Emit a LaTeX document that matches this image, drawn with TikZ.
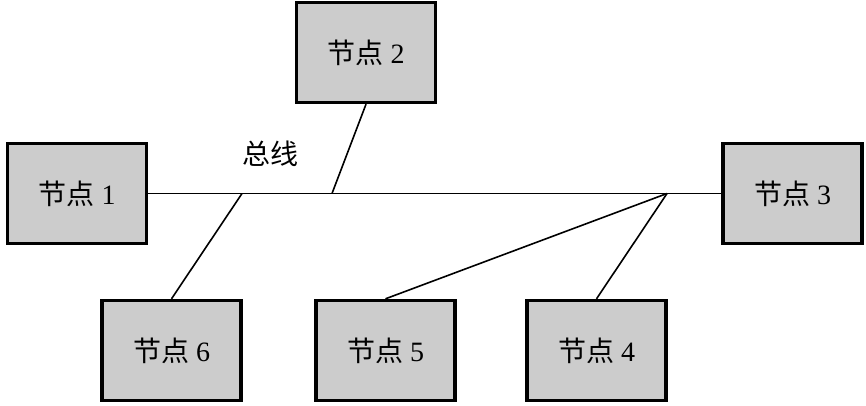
\documentclass[tikz,border=0pt]{standalone}
\usepackage{fontspec}
\setmainfont{Liberation Serif}
\newfontfamily\cjk{Noto Sans CJK SC}
\begin{document}
\begin{tikzpicture}[x=1pt,y=-1pt,
  nodebox/.style={draw=black,line width=3.4pt,fill=black!20,minimum width=139pt,minimum height=100pt,inner sep=0pt,font=\fontsize{28}{32}\selectfont},
  wire/.style={line width=1.6pt}]
\useasboundingbox (0,0) rectangle (866,405);
\node[nodebox] (n1) at (77,193.5) {{\cjk 节点} 1};
\node[nodebox] (n2) at (366,52.5) {{\cjk 节点} 2};
\node[nodebox] (n3) at (792.5,193.5) {{\cjk 节点} 3};
\node[nodebox] (n6) at (171.5,350.5) {{\cjk 节点} 6};
\node[nodebox] (n5) at (385.5,350.5) {{\cjk 节点} 5};
\node[nodebox] (n4) at (596.5,350.5) {{\cjk 节点} 4};
\node (lbl) at (270,154) {\fontsize{28}{32}\selectfont\cjk 总线};
\coordinate (j2) at (332,193.5);
\coordinate (j6) at (242,193.5);
\coordinate (j45) at (667,193.5);
\draw[wire] (n1.east) -- (n3.west);
\draw[wire] (n2.south) -- (j2);
\draw[wire] (n6.north) -- (j6);
\draw[wire] (n5.north) -- (j45);
\draw[wire] (n4.north) -- (j45);
\end{tikzpicture}
\end{document}
